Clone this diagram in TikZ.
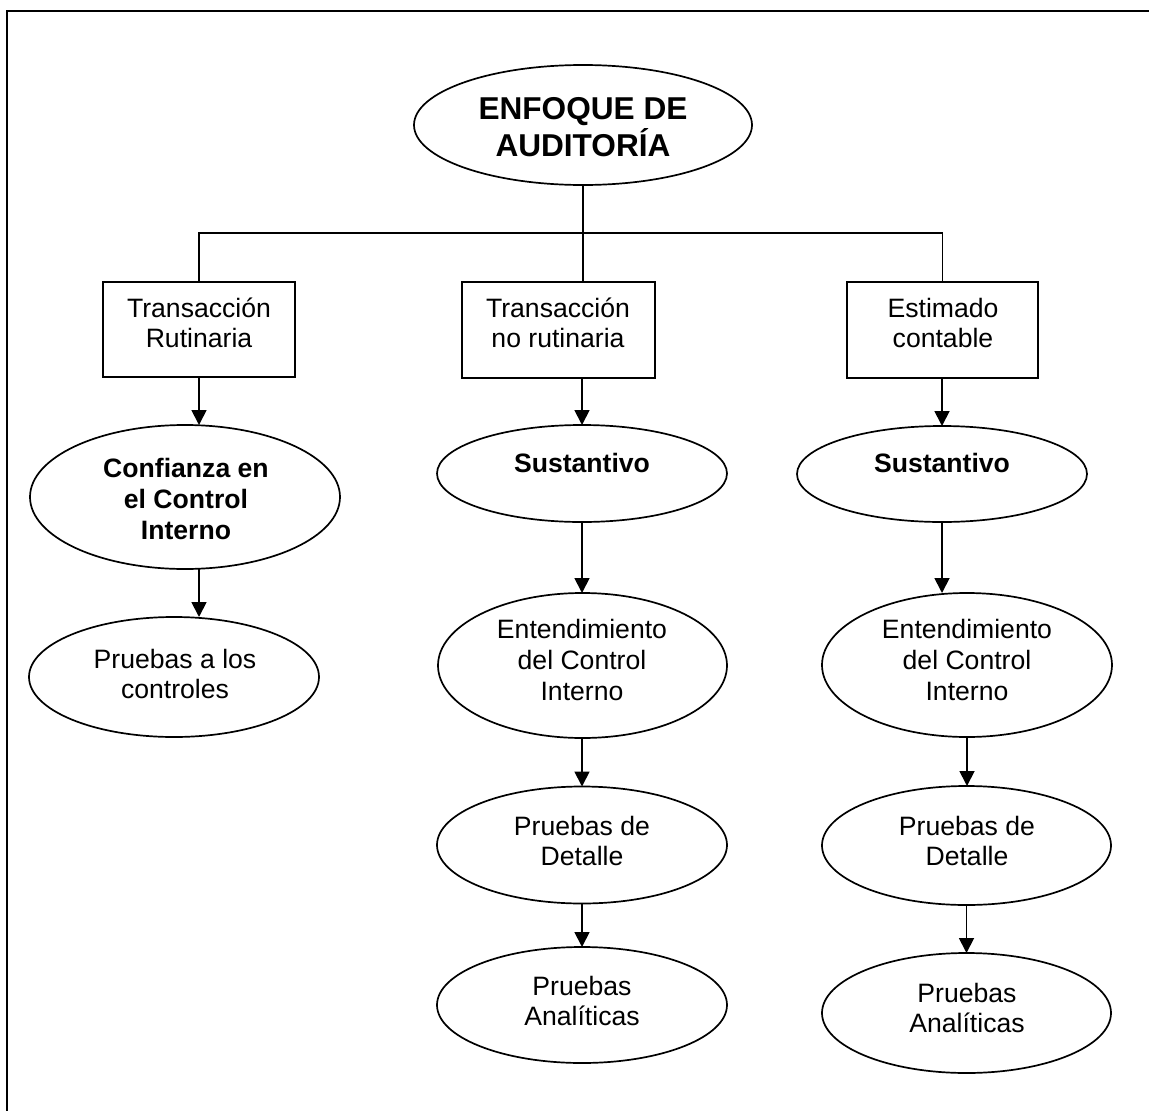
\documentclass[tikz,border=0pt]{standalone}
\usepackage{fontspec}
\setmainfont{Liberation Sans}
\usetikzlibrary{shapes.geometric,arrows.meta}
\begin{document}
\begin{tikzpicture}[x=1pt,y=-1pt,
  shapeline/.style={draw=black,line width=1.7pt,outer sep=0pt,inner sep=0pt},
  oval/.style={shapeline,ellipse},
  boxnode/.style={shapeline,rectangle},
  txt/.style={inner sep=0pt,align=center,font=\fontsize{26.6}{30.6}\selectfont},
  txtb/.style={inner sep=0pt,align=center,font=\bfseries\fontsize{26.6}{30.6}\selectfont},
  titletxt/.style={inner sep=0pt,align=center,font=\bfseries\fontsize{31.6}{37}\selectfont},
  link/.style={line width=1.8pt},
  arr/.style={link,-{Triangle[width=15pt,length=15pt]}}
]
\useasboundingbox (0,0) rectangle (1149,1111);
\clip (0,0) rectangle (1149,1111);

% page frame (top and left edges)
\draw[line width=2.2pt] (7,1130) -- (7,11) -- (1160,11);

% root
\node[oval,minimum width=338pt,minimum height=120pt] (root) at (583,125) {};
\node[titletxt] (root-t) at (583,127) {ENFOQUE DE\\AUDITORÍA};

% transaction boxes
\node[boxnode,minimum width=192pt,minimum height=95pt] (box1) at (199,329.5) {};
\node[txt] (box1-t) at (199,323) {Transacción\\Rutinaria};
\node[boxnode,minimum width=193pt,minimum height=96pt] (box2) at (558.5,330) {};
\node[txt] (box2-t) at (558,323) {Transacción\\no rutinaria};
\node[boxnode,minimum width=191pt,minimum height=96pt] (box3) at (942.5,330) {};
\node[txt] (box3-t) at (943,323) {Estimado\\contable};

% column 1
\node[oval,minimum width=310pt,minimum height=144pt] (conf) at (185,497) {};
\node[txtb] (conf-t) at (186,499) {Confianza en\\el Control\\Interno};
\node[oval,minimum width=290pt,minimum height=120pt] (ctrl) at (174,677) {};
\node[txt] (ctrl-t) at (175,674) {Pruebas a los\\controles};

% column 2
\node[oval,minimum width=290pt,minimum height=97pt] (sust2) at (582,473.5) {};
\node[txtb] (sust2-t) at (582,463) {Sustantivo};
\node[oval,minimum width=289pt,minimum height=145pt] (ent2) at (582.5,665.5) {};
\node[txt] (ent2-t) at (582,660) {Entendimiento\\del Control\\Interno};
\node[oval,minimum width=290pt,minimum height=117pt] (det2) at (582,845) {};
\node[txt] (det2-t) at (582,841) {Pruebas de\\Detalle};
\node[oval,minimum width=290pt,minimum height=116pt] (ana2) at (582,1005) {};
\node[txt] (ana2-t) at (582,1001) {Pruebas\\Analíticas};

% column 3
\node[oval,minimum width=290pt,minimum height=96pt] (sust3) at (942,474) {};
\node[txtb] (sust3-t) at (942,463) {Sustantivo};
\node[oval,minimum width=290pt,minimum height=144pt] (ent3) at (967,665) {};
\node[txt] (ent3-t) at (967,660) {Entendimiento\\del Control\\Interno};
\node[oval,minimum width=289pt,minimum height=119pt] (det3) at (966.5,845.5) {};
\node[txt] (det3-t) at (967,841) {Pruebas de\\Detalle};
\node[oval,minimum width=289pt,minimum height=120pt] (ana3) at (966.5,1013) {};
\node[txt] (ana3-t) at (967,1008) {Pruebas\\Analíticas};

% branching from the root
\coordinate (bus) at (583,233);
\draw[link] (root.south) -- (bus);
\draw[link] (box1.north) |- (bus) -| (box3.north);
\draw[link] (bus) -- (bus |- box2.north);

% column 1 arrows
\draw[arr] (box1.south) -- (box1.south |- conf.north);
\draw[arr] (box1.south |- conf.south) -- (box1.south |- ctrl.north);

% column 2 arrows
\draw[arr] (sust2.north |- box2.south) -- (sust2.north);
\draw[arr] (sust2.south) -- (sust2.south |- ent2.north);
\draw[arr] (ent2.south -| det2.north) -- (det2.north);
\draw[arr] (det2.south) -- (ana2.north);

% column 3 arrows
\draw[arr] (box3.south -| sust3.north) -- (sust3.north);
\draw[arr] (sust3.south) -- (sust3.south |- ent3.north);
\draw[arr] (ent3.south) -- (ent3.south |- det3.north);
\draw[arr] (det3.south -| ana3.north) -- (ana3.north);
\end{tikzpicture}
\end{document}
